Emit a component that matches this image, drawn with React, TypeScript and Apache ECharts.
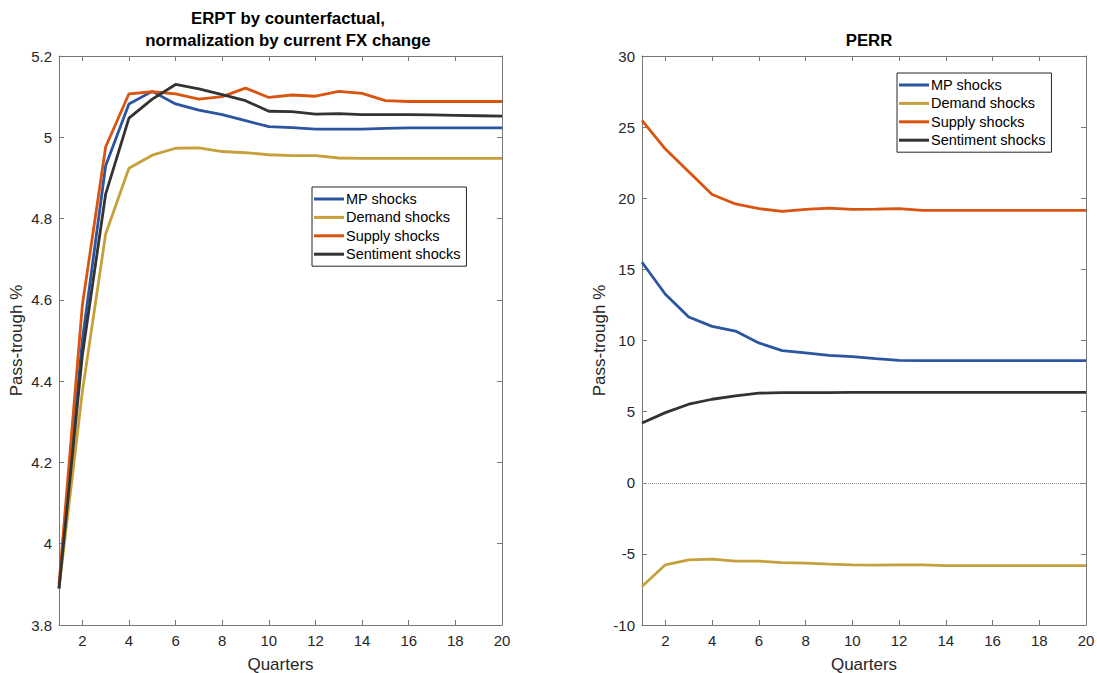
import React, { useEffect, useRef } from "react";
import * as echarts from "echarts";

const quarters = [1, 2, 3, 4, 5, 6, 7, 8, 9, 10, 11, 12, 13, 14, 15, 16, 17, 18, 19, 20];
const seriesNames = ["MP shocks", "Demand shocks", "Supply shocks", "Sentiment shocks"];
const colors = ["#2B55A0", "#C6A03A", "#D9540F", "#333333"];

// ERPT (left)
const erptMP = [3.89, 4.5, 4.93, 5.082, 5.113, 5.082, 5.067, 5.056, 5.041, 5.026, 5.024, 5.02, 5.02, 5.02, 5.022, 5.023, 5.023, 5.023, 5.023, 5.023];
const erptDemand = [3.89, 4.373, 4.762, 4.924, 4.956, 4.973, 4.974, 4.965, 4.962, 4.957, 4.955, 4.955, 4.949, 4.948, 4.948, 4.948, 4.948, 4.948, 4.948, 4.948];
const erptSupply = [3.9, 4.586, 4.976, 5.107, 5.112, 5.107, 5.094, 5.1, 5.121, 5.098, 5.104, 5.101, 5.113, 5.108, 5.09, 5.088, 5.088, 5.088, 5.088, 5.088];
const erptSentiment = [3.89, 4.463, 4.86, 5.047, 5.094, 5.13, 5.119, 5.105, 5.09, 5.064, 5.063, 5.057, 5.058, 5.056, 5.056, 5.056, 5.055, 5.054, 5.053, 5.052];

// PERR (right)
const perrMP = [15.5, 13.25, 11.65, 10.99, 10.66, 9.83, 9.29, 9.13, 8.96, 8.87, 8.73, 8.6, 8.58, 8.58, 8.58, 8.58, 8.58, 8.58, 8.58, 8.58];
const perrDemand = [-7.29, -5.77, -5.42, -5.37, -5.51, -5.51, -5.61, -5.65, -5.72, -5.77, -5.79, -5.77, -5.77, -5.82, -5.82, -5.82, -5.82, -5.82, -5.82, -5.82];
const perrSupply = [25.47, 23.46, 21.87, 20.26, 19.6, 19.27, 19.08, 19.22, 19.31, 19.22, 19.24, 19.27, 19.15, 19.15, 19.15, 19.15, 19.15, 19.15, 19.15, 19.15];
const perrSentiment = [4.2, 4.93, 5.52, 5.87, 6.11, 6.3, 6.34, 6.34, 6.34, 6.35, 6.35, 6.35, 6.35, 6.35, 6.35, 6.35, 6.35, 6.35, 6.35, 6.35];

const xTicks = [2, 4, 6, 8, 10, 12, 14, 16, 18, 20];
const leftTitle = "ERPT by counterfactual,\nnormalization by current FX change";
const rightTitle = "PERR";
const xName = "Quarters";
const yName = "Pass-trough %";

const FONT = "'Liberation Sans', Arial, Helvetica, sans-serif";
const AXIS_COLOR = "#777777";
const TEXT_COLOR = "#262626";

export default function App() {
  const ref = useRef<HTMLDivElement>(null);
  useEffect(() => {
    document.body.style.margin = "0";
    if (!ref.current) return;
    const chart = echarts.init(ref.current, null, { renderer: "svg" });

    const toPairs = (arr: number[]) => quarters.map((q, i) => [q, arr[i]]);
    const leftData = [erptMP, erptDemand, erptSupply, erptSentiment];
    const rightData = [perrMP, perrDemand, perrSupply, perrSentiment];

    const grids = [
      { left: 59, top: 56, width: 443, height: 569, outerBoundsMode: "none", containLabel: false },
      { left: 642, top: 56, width: 444, height: 569, outerBoundsMode: "none", containLabel: false },
    ];

    const xAxisBase = (gridIndex: number, top: boolean) => ({
      type: "value",
      gridIndex,
      min: 1,
      max: 20,
      position: top ? "top" : "bottom",
      name: top ? "" : xName,
      nameLocation: "middle",
      nameGap: 31,
      nameTextStyle: { fontFamily: FONT, fontSize: 17, color: TEXT_COLOR },
      axisLine: { show: true, onZero: false, lineStyle: { color: AXIS_COLOR, width: 1 } },
      axisTick: { show: true, inside: true, length: 5, customValues: xTicks, lineStyle: { color: AXIS_COLOR } },
      axisLabel: {
        show: !top,
        customValues: xTicks,
        fontFamily: FONT,
        fontSize: 15,
        color: TEXT_COLOR,
        margin: 8,
      },
      splitLine: { show: false },
    });

    const yAxisBase = (gridIndex: number, right: boolean, min: number, max: number, interval: number) => ({
      type: "value",
      gridIndex,
      min,
      max,
      interval,
      position: right ? "right" : "left",
      name: right ? "" : yName,
      nameLocation: "middle",
      nameGap: 34,
      nameTextStyle: { fontFamily: FONT, fontSize: 17, color: TEXT_COLOR },
      axisLine: { show: true, onZero: false, lineStyle: { color: AXIS_COLOR, width: 1 } },
      axisTick: { show: true, inside: true, length: 5, lineStyle: { color: AXIS_COLOR } },
      axisLabel: {
        show: !right,
        fontFamily: FONT,
        fontSize: 15,
        color: TEXT_COLOR,
        margin: 7,
      },
      splitLine: { show: false },
    });

    const series: any[] = [];
    leftData.forEach((d, i) => {
      series.push({
        type: "line",
        name: seriesNames[i],
        xAxisIndex: 0,
        yAxisIndex: 0,
        data: toPairs(d),
        symbol: "none",
        lineStyle: { color: colors[i], width: 2.8 },
        itemStyle: { color: colors[i] },
      });
    });
    rightData.forEach((d, i) => {
      const s: any = {
        type: "line",
        name: seriesNames[i],
        xAxisIndex: 2,
        yAxisIndex: 2,
        data: toPairs(d),
        symbol: "none",
        lineStyle: { color: colors[i], width: 2.8 },
        itemStyle: { color: colors[i] },
      };
      if (i === 0) {
        s.markLine = {
          silent: true,
          symbol: "none",
          label: { show: false },
          lineStyle: { type: "dotted", color: "#999999", width: 1 },
          data: [{ yAxis: 0 }],
        };
      }
      series.push(s);
    });

    const legendBase = (left: number, top: number) => ({
      orient: "vertical",
      left,
      top,
      data: seriesNames,
      icon: "rect",
      itemWidth: 30,
      itemHeight: 3,
      itemGap: 0.4,
      padding: [3, 6, 3, 2],
      borderColor: "#262626",
      borderWidth: 1,
      backgroundColor: "#ffffff",
      textStyle: { fontFamily: FONT, fontSize: 14.5, color: "#000", lineHeight: 18, padding: [0, 0, 0, -3] },
      selectedMode: false,
    });

    const option: any = {
      animation: false,
      backgroundColor: "#ffffff",
      title: [
        {
          text: leftTitle,
          left: 283,
          top: 2,
          textAlign: "center",
          textStyle: { fontFamily: FONT, fontSize: 16.8, fontWeight: "bold", color: "#000", lineHeight: 22 },
        },
        {
          text: rightTitle,
          left: 864,
          top: 24,
          textAlign: "center",
          textStyle: { fontFamily: FONT, fontSize: 16.8, fontWeight: "bold", color: "#000", lineHeight: 22 },
        },
      ],
      legend: [legendBase(312, 187), legendBase(897, 73)],
      grid: grids,
      xAxis: [xAxisBase(0, false), xAxisBase(0, true), xAxisBase(1, false), xAxisBase(1, true)],
      yAxis: [
        yAxisBase(0, false, 3.8, 5.2, 0.2),
        yAxisBase(0, true, 3.8, 5.2, 0.2),
        yAxisBase(1, false, -10, 30, 5),
        yAxisBase(1, true, -10, 30, 5),
      ],
      series,
    };
    chart.setOption(option);
    return () => chart.dispose();
  }, []);
  return <div ref={ref} style={{ width: 1097, height: 673 }} />;
}
